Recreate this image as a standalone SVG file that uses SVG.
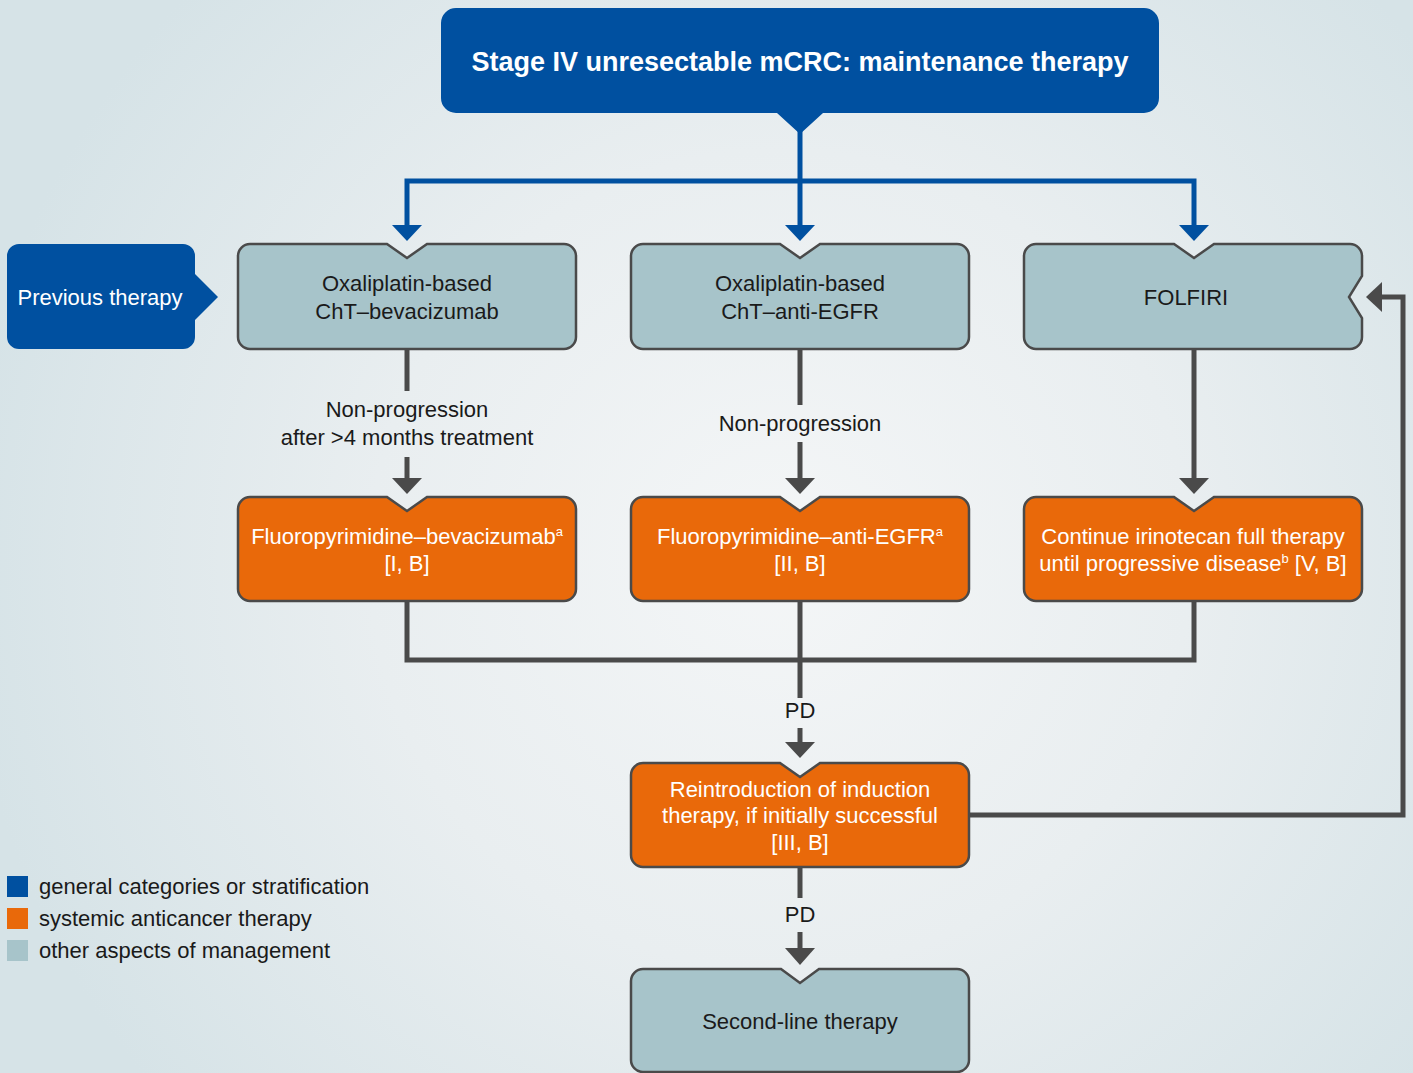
<svg xmlns="http://www.w3.org/2000/svg" width="1413" height="1073" viewBox="0 0 1413 1073">
<defs>
<radialGradient id="bg" cx="780" cy="560" r="820" gradientUnits="userSpaceOnUse">
<stop offset="0" stop-color="#f4f6f7"/>
<stop offset="0.5" stop-color="#e9eef0"/>
<stop offset="1" stop-color="#d6e3e7"/>
</radialGradient>
<style>
.blue{fill:#0050a0}
.grey{fill:#a7c4ca;stroke:#4a4a4a;stroke-width:2.5}
.orange{fill:#e9690a;stroke:#4a4a4a;stroke-width:2.5}
.t{font-family:"Liberation Sans",Arial,sans-serif;font-size:22px;text-anchor:middle}
.dk{fill:#1a1a1a}
.wh{fill:#ffffff}
.lg{font-family:"Liberation Sans",Arial,sans-serif;font-size:22px;fill:#1a1a1a}
.cb{fill:none;stroke:#0050a0;stroke-width:5}
.cg{fill:none;stroke:#4a4a4a;stroke-width:5}
.ab{fill:#0050a0}
.ag{fill:#4a4a4a}
.sup{font-size:13px}
</style>
</defs>
<rect width="1413" height="1073" fill="url(#bg)"/>

<g id="connectors">
<path class="cb" d="M800,130 V226 M407,226 V181 H1194 V226"/>
<polygon class="ab" points="392,225 422,225 407,241"/>
<polygon class="ab" points="785,225 815,225 800,241"/>
<polygon class="ab" points="1179,225 1209,225 1194,241"/>

<path class="cg" d="M407,349 V391 M407,457 V480"/>
<polygon class="ag" points="392,478 422,478 407,494"/>
<path class="cg" d="M800,349 V405 M800,442 V480"/>
<polygon class="ag" points="785,478 815,478 800,494"/>
<path class="cg" d="M1194,349 V480"/>
<polygon class="ag" points="1179,478 1209,478 1194,494"/>

<path class="cg" d="M407,601 V660 H1194 V601 M800,601 V698 M800,728 V744"/>
<polygon class="ag" points="785,742 815,742 800,758"/>
<path class="cg" d="M800,867 V898 M800,932 V950"/>
<polygon class="ag" points="785,948 815,948 800,965"/>
<path class="cg" d="M969,815 H1403 V297 H1380"/>
<polygon class="ag" points="1366,297 1382,282 1382,312"/>

<text class="t dk" x="407" y="417">Non-progression</text>
<text class="t dk" x="407" y="445">after &gt;4 months treatment</text>
<text class="t dk" x="800" y="431">Non-progression</text>
<text class="t dk" x="800" y="718">PD</text>
<text class="t dk" x="800" y="922">PD</text>
</g>

<g id="title">
<path class="blue" d="M456,8 H1144 A15,15 0 0 1 1159,23 V98 A15,15 0 0 1 1144,113 H823 L800,134 L777,113 H456 A15,15 0 0 1 441,98 V23 A15,15 0 0 1 456,8 Z"/>
<text class="wh" x="800" y="71" font-family="Liberation Sans,Arial,sans-serif" font-weight="bold" font-size="27" text-anchor="middle">Stage IV unresectable mCRC: maintenance therapy</text>
</g>

<g id="previous">
<path class="blue" d="M19,244 H183 A12,12 0 0 1 195,256 V274 L218,297 L195,320 V337 A12,12 0 0 1 183,349 H19 A12,12 0 0 1 7,337 V256 A12,12 0 0 1 19,244 Z"/>
<text class="t wh" x="100" y="305">Previous therapy</text>
</g>

<g id="oxa-bev">
<path class="grey" d="M250,244 H387 L407,258 L427,244 H564 A12,12 0 0 1 576,256 V337 A12,12 0 0 1 564,349 H250 A12,12 0 0 1 238,337 V256 A12,12 0 0 1 250,244 Z"/>
<text class="t dk" x="407" y="291">Oxaliplatin-based</text>
<text class="t dk" x="407" y="319">ChT–bevacizumab</text>
</g>

<g id="oxa-egfr">
<path class="grey" d="M643,244 H780 L800,258 L820,244 H957 A12,12 0 0 1 969,256 V337 A12,12 0 0 1 957,349 H643 A12,12 0 0 1 631,337 V256 A12,12 0 0 1 643,244 Z"/>
<text class="t dk" x="800" y="291">Oxaliplatin-based</text>
<text class="t dk" x="800" y="319">ChT–anti-EGFR</text>
</g>

<g id="folfiri">
<path class="grey" d="M1036,244 H1174 L1194,258 L1214,244 H1350 A12,12 0 0 1 1362,256 V276 L1349,297 L1362,318 V337 A12,12 0 0 1 1350,349 H1036 A12,12 0 0 1 1024,337 V256 A12,12 0 0 1 1036,244 Z"/>
<text class="t dk" x="1186" y="305">FOLFIRI</text>
</g>

<g id="fp-bev">
<path class="orange" d="M250,497 H387 L407,511 L427,497 H564 A12,12 0 0 1 576,509 V589 A12,12 0 0 1 564,601 H250 A12,12 0 0 1 238,589 V509 A12,12 0 0 1 250,497 Z"/>
<text class="t wh" x="407" y="544">Fluoropyrimidine–bevacizumab<tspan class="sup" dy="-8">a</tspan></text>
<text class="t wh" x="407" y="571">[I, B]</text>
</g>

<g id="fp-egfr">
<path class="orange" d="M643,497 H780 L800,511 L820,497 H957 A12,12 0 0 1 969,509 V589 A12,12 0 0 1 957,601 H643 A12,12 0 0 1 631,589 V509 A12,12 0 0 1 643,497 Z"/>
<text class="t wh" x="800" y="544">Fluoropyrimidine–anti-EGFR<tspan class="sup" dy="-8">a</tspan></text>
<text class="t wh" x="800" y="571">[II, B]</text>
</g>

<g id="irinotecan">
<path class="orange" d="M1036,497 H1174 L1194,511 L1214,497 H1350 A12,12 0 0 1 1362,509 V589 A12,12 0 0 1 1350,601 H1036 A12,12 0 0 1 1024,589 V509 A12,12 0 0 1 1036,497 Z"/>
<text class="t wh" x="1193" y="544">Continue irinotecan full therapy</text>
<text class="t wh" x="1193" y="571">until progressive disease<tspan class="sup" dy="-8">b</tspan><tspan dy="8"> [V, B]</tspan></text>
</g>

<g id="reintro">
<path class="orange" d="M643,763 H780 L800,777 L820,763 H957 A12,12 0 0 1 969,775 V855 A12,12 0 0 1 957,867 H643 A12,12 0 0 1 631,855 V775 A12,12 0 0 1 643,763 Z"/>
<text class="t wh" x="800" y="797">Reintroduction of induction</text>
<text class="t wh" x="800" y="823">therapy, if initially successful</text>
<text class="t wh" x="800" y="850">[III, B]</text>
</g>

<g id="second-line">
<path class="grey" d="M643,969 H781 L800,983 L819,969 H957 A12,12 0 0 1 969,981 V1060 A12,12 0 0 1 957,1072 H643 A12,12 0 0 1 631,1060 V981 A12,12 0 0 1 643,969 Z"/>
<text class="t dk" x="800" y="1029">Second-line therapy</text>
</g>

<g id="legend">
<rect x="7" y="876" width="21" height="21" fill="#0050a0"/>
<rect x="7" y="908" width="21" height="21" fill="#e9690a"/>
<rect x="7" y="940" width="21" height="21" fill="#a7c4ca"/>
<text class="lg" x="39" y="894">general categories or stratification</text>
<text class="lg" x="39" y="926">systemic anticancer therapy</text>
<text class="lg" x="39" y="958">other aspects of management</text>
</g>
</svg>
